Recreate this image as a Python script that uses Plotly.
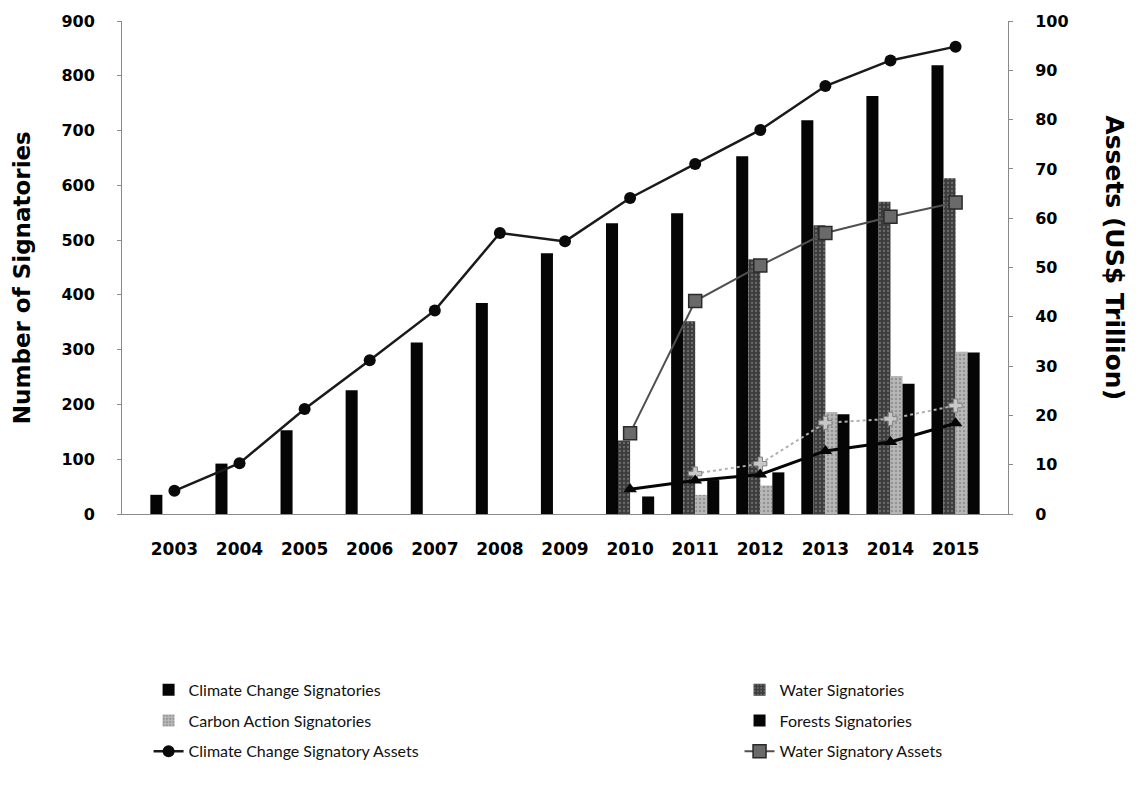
import plotly.graph_objects as go

years = ["2003", "2004", "2005", "2006", "2007", "2008", "2009",
         "2010", "2011", "2012", "2013", "2014", "2015"]

climate_signatories = [35, 92, 153, 226, 313, 385, 476, 531, 549, 653, 719, 763, 819]
water_signatories = [None, None, None, None, None, None, None, 134, 352, 465, 527, 570, 613]
carbon_signatories = [None, None, None, None, None, None, None, None, 35, 52, 186, 252, 296]
forests_signatories = [None, None, None, None, None, None, None, 32, 62, 76, 182, 238, 295]

climate_assets = [4.7, 10.3, 21.3, 31.2, 41.3, 57.0, 55.3, 64.1, 71.0, 77.9, 86.8, 92.0, 94.8]
water_assets = [None, None, None, None, None, None, None, 16.4, 43.2, 50.4, 57.0, 60.3, 63.2]
carbon_assets = [None, None, None, None, None, None, None, None, 8.2, 10.2, 18.5, 19.3, 22.0]
forests_assets = [None, None, None, None, None, None, None, 5.0, 6.8, 8.0, 12.8, 14.6, 18.4]

left_ticks = [0, 100, 200, 300, 400, 500, 600, 700, 800, 900]
right_ticks = [0, 10, 20, 30, 40, 50, 60, 70, 80, 90, 100]

legend_font = dict(family="Liberation Sans Narrow, Lato, Arial Narrow, sans-serif", size=16, color="#111")

fig = go.Figure()

fig.add_trace(go.Bar(
    x=years, y=climate_signatories, name="Climate Change Signatories",
    marker=dict(color="#050505", line=dict(width=0)),
    legend="legend", legendgroup="a"))
fig.add_trace(go.Bar(
    x=years, y=water_signatories, name="Water Signatories",
    marker=dict(color="#3c3c3c", line=dict(width=0),
                pattern=dict(shape=".", fgcolor="#9a9a9a", size=4, solidity=0.25)),
    legend="legend2", legendgroup="b"))
fig.add_trace(go.Bar(
    x=years, y=carbon_signatories, name="Carbon Action Signatories",
    marker=dict(color="#b8b8b8", line=dict(width=0),
                pattern=dict(shape=".", fgcolor="#6e6e6e", size=4, solidity=0.3)),
    legend="legend", legendgroup="c"))
fig.add_trace(go.Bar(
    x=years, y=forests_signatories, name="Forests Signatories",
    marker=dict(color="#050505", line=dict(width=0)),
    legend="legend2", legendgroup="d"))

fig.add_trace(go.Scatter(
    x=years, y=carbon_assets, name="Carbon Action Signatory Assets", yaxis="y2",
    mode="lines+markers", line=dict(color="#b0b0b0", width=2, dash="dot"),
    marker=dict(symbol="cross", size=11, color="#c8c8c8", line=dict(color="#808080", width=1)),
    showlegend=False))
fig.add_trace(go.Scatter(
    x=years, y=forests_assets, name="Forests Signatory Assets", yaxis="y2",
    mode="lines+markers", line=dict(color="#050505", width=3),
    marker=dict(symbol="triangle-up", size=12, color="#050505"),
    showlegend=False))
fig.add_trace(go.Scatter(
    x=years, y=water_assets, name="Water Signatory Assets", yaxis="y2",
    mode="lines+markers", line=dict(color="#505050", width=2),
    marker=dict(symbol="square", size=13, color="#6a6a6a", line=dict(color="#2a2a2a", width=1.5)),
    legend="legend2", legendgroup="f"))
fig.add_trace(go.Scatter(
    x=years, y=climate_assets, name="Climate Change Signatory Assets", yaxis="y2",
    mode="lines+markers", line=dict(color="#1a1a1a", width=2.5),
    marker=dict(symbol="circle", size=12, color="#0a0a0a"),
    legend="legend", legendgroup="e"))

ytick_font = dict(family="DejaVu Sans, Verdana, sans-serif", size=16, color="#000", weight="bold")
xtick_font = dict(family="DejaVu Sans, Verdana, sans-serif", size=17, color="#000", weight="bold")

fig.update_layout(
    width=1136, height=791,
    margin=dict(l=122, r=128, t=17, b=277),
    paper_bgcolor="white", plot_bgcolor="white",
    barmode="group", bargap=0.26, bargroupgap=0.0,
    showlegend=True,
    xaxis=dict(
        type="category", tickfont=xtick_font, showgrid=False, zeroline=False,
        showline=True, linecolor="#8a8a8a", linewidth=1,
        ticks="", ticklabelstandoff=20),
    yaxis=dict(
        range=[0, 900], tickvals=left_ticks, tickfont=ytick_font,
        showgrid=False, zeroline=False, showline=True, linecolor="#8a8a8a",
        linewidth=1, ticks="outside", ticklen=4, tickcolor="#8a8a8a",
        ticklabelstandoff=19),
    yaxis2=dict(
        range=[0, 100], tickvals=right_ticks, tickfont=ytick_font,
        overlaying="y", side="right", showgrid=False, zeroline=False,
        showline=True, linecolor="#8a8a8a", linewidth=1,
        ticks="outside", ticklen=4, tickcolor="#8a8a8a", ticklabelstandoff=19),
    legend=dict(
        x=0.03, y=-0.322, xanchor="left", yanchor="top", orientation="v",
        font=legend_font, tracegroupgap=7, traceorder="grouped",
        bgcolor="rgba(0,0,0,0)"),
    legend2=dict(
        x=0.697, y=-0.322, xanchor="left", yanchor="top", orientation="v",
        font=legend_font, tracegroupgap=7, traceorder="grouped",
        bgcolor="rgba(0,0,0,0)"),
    annotations=[
        dict(text="<b>Number of Signatories</b>", xref="paper", yref="paper",
             x=-0.112, y=0.48, xanchor="center", yanchor="middle",
             textangle=-90, showarrow=False,
             font=dict(family="DejaVu Sans, Verdana, sans-serif", size=23, color="#000")),
        dict(text="<b>Assets (US$ Trillion)</b>", xref="paper", yref="paper",
             x=1.12, y=0.52, xanchor="center", yanchor="middle",
             textangle=90, showarrow=False,
             font=dict(family="DejaVu Sans, Verdana, sans-serif", size=25, color="#000")),
    ],
)

fig.write_html("out.html")
